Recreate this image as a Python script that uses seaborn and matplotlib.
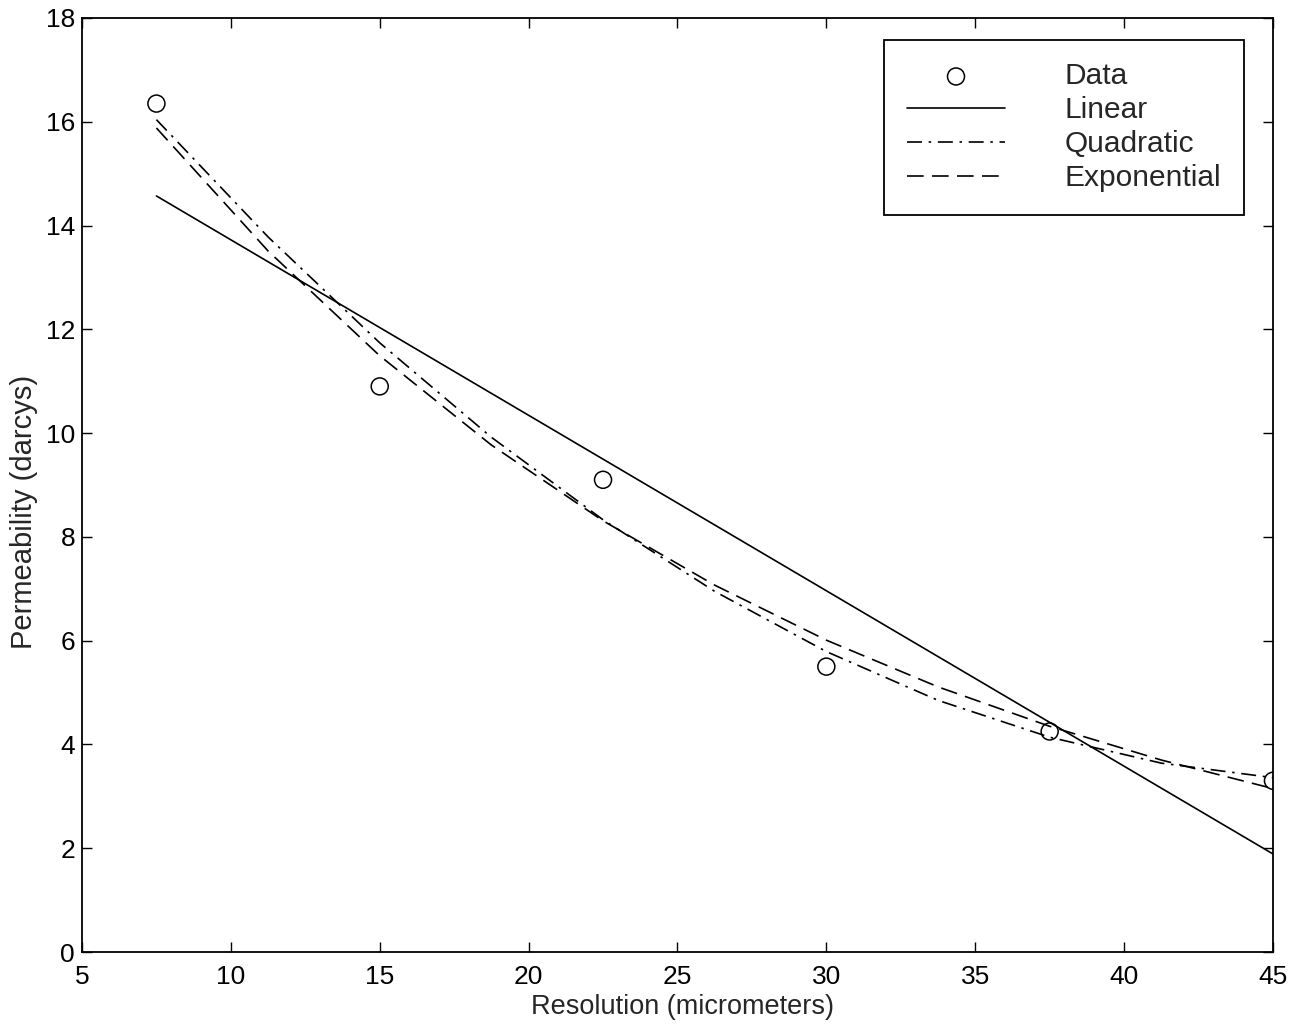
import matplotlib
matplotlib.use("Agg")
import matplotlib.pyplot as plt
import seaborn as sns

# data
res_data = [7.5, 15, 22.5, 30, 37.5, 45]
perm_data = [16.35, 10.9, 9.1, 5.5, 4.25, 3.3]

lin_x = [7.5, 45]
lin_y = [14.57, 1.89]

fit_x = [7.5, 11.25, 15, 18.75, 22.5, 26.25, 30, 33.75, 37.5, 41.25, 45]
quad_y = [16.04, 13.78, 11.74, 9.92, 8.33, 6.95, 5.79, 4.85, 4.14, 3.64, 3.36]
expo_y = [15.88, 13.51, 11.49, 9.77, 8.31, 7.07, 6.01, 5.11, 4.35, 3.70, 3.15]

x_ticks = [5, 10, 15, 20, 25, 30, 35, 40, 45]
y_ticks = [0, 2, 4, 6, 8, 10, 12, 14, 16, 18]

sns.set_style("ticks")
plt.rcParams['font.family'] = ['Liberation Sans', 'DejaVu Sans']

fig = plt.figure(figsize=(12.93, 10.26), dpi=100)
ax = fig.add_axes([0.0634, 0.0721, 0.9211, 0.9104])

sns.scatterplot(x=res_data, y=perm_data, ax=ax, marker='o', s=150,
                facecolor='none', edgecolor='black', linewidth=1.1,
                label='Data', zorder=5)
sns.lineplot(x=lin_x, y=lin_y, ax=ax, color='black', linewidth=1.2,
             linestyle='-', label='Linear')
sns.lineplot(x=fit_x, y=quad_y, ax=ax, color='black', linewidth=1.2,
             linestyle=(0, (9, 4, 1.5, 4)), label='Quadratic')
sns.lineplot(x=fit_x, y=expo_y, ax=ax, color='black', linewidth=1.2,
             linestyle=(0, (10, 5)), label='Exponential')

ax.set_xlim(5, 45)
ax.set_ylim(0, 18)
ax.set_xticks(x_ticks)
ax.set_yticks(y_ticks)
ax.tick_params(direction='in', length=7, width=1, labelsize=19,
               top=True, right=True, colors='black')
ax.tick_params(axis='x', pad=9)
ax.tick_params(axis='y', pad=5)
for sp in ax.spines.values():
    sp.set_visible(True)
    sp.set_linewidth(1.3)
    sp.set_color('black')

ax.set_xlabel('Resolution (micrometers)', fontsize=19.5)
ax.set_ylabel('Permeability (darcys)', fontsize=21)
ax.xaxis.set_label_coords(0.504, -0.045)
ax.yaxis.set_label_coords(-0.037, 0.471)

leg = ax.legend(loc='upper right', bbox_to_anchor=(0.9757, 0.9765),
                borderaxespad=0, fontsize=21.5, handlelength=3.3,
                handletextpad=2.0, labelspacing=0.2, borderpad=0.75,
                fancybox=False, framealpha=1, edgecolor='black')
leg.get_frame().set_linewidth(1.3)

fig.savefig('out.png', dpi=100)
